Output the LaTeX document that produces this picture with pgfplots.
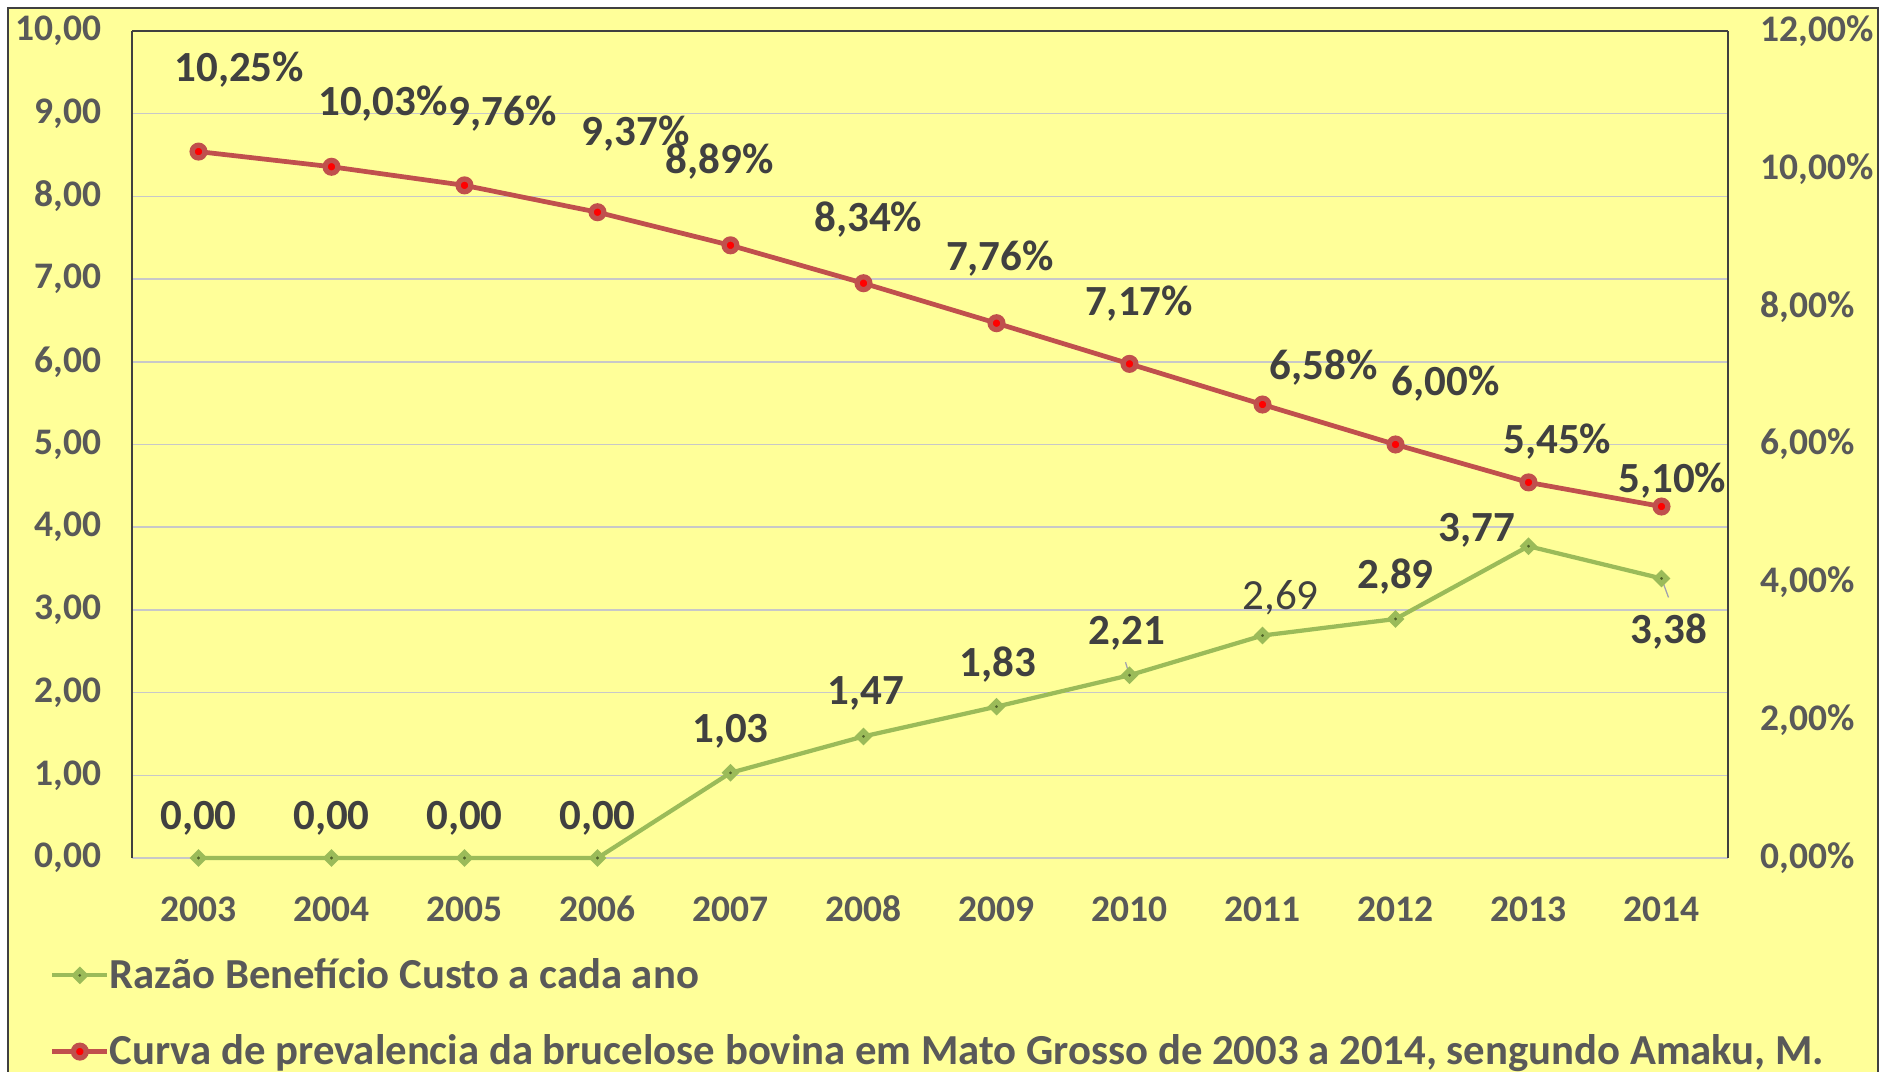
\documentclass[border=0pt]{standalone}
\usepackage{pgfplots}
\pgfplotsset{compat=1.18}
\usepackage{pgfplotstable}
\usepackage{fontspec}
\setmainfont{Carlito}

\definecolor{bgyellow}{HTML}{FFFF99}
\definecolor{framegray}{HTML}{404040}
\definecolor{tickgray}{HTML}{595959}
\definecolor{labelgray}{HTML}{404040}
\definecolor{gridgray}{HTML}{C8C8C8}
\definecolor{leadergray}{HTML}{A0A0B0}
\definecolor{ratiogreen}{HTML}{9BBB59}
\definecolor{ratiodot}{HTML}{4F6228}
\definecolor{prevred}{HTML}{C0504D}

% benefit/cost ratio per year; dx dy = label offset (pt), bold = label weight
\pgfplotstableread{
year ratio dx    dy    bold
2003 0.00  0.0   15.8  1
2004 0.00  0.0   15.8  1
2005 0.00  0.0   15.8  1
2006 0.00  0.0   15.8  1
2007 1.03  0.0   16.8  1
2008 1.47  1.0   17.2  1
2009 1.83  0.5   16.8  1
2010 2.21  -1.0  16.8  1
2011 2.69  7.2   15.3  0
2012 2.89  0.0   16.8  1
2013 3.77  -20.6 6.2   1
2014 3.38  2.9   -21.1 1
}\ratiotable

% prevalence (%) per year
\pgfplotstableread{
year prev  dx    dy
2003 10.25 16.3  33.0
2004 10.03 20.6  25.4
2005 9.76  15.3  28.7
2006 9.37  15.3  31.6
2007 8.89  -4.3  33.5
2008 8.34  1.9   25.4
2009 7.76  1.4   25.9
2010 7.17  3.8   24.0
2011 6.58  24.4  14.8
2012 6.00  20.1  24.4
2013 5.45  11.5  16.3
2014 5.10  4.3   10.5
}\prevtable

\pgfplotsset{
  base/.style={
    scale only axis, width=638.4pt, height=330.8pt,
    at={(52.8pt,85.2pt)}, anchor=south west,
    xmin=2002.5, xmax=2014.5, clip=false,
    major tick length=0pt,
    axis line style={framegray, line width=0.5pt},
    tick label style={font=\fontsize{15}{17}\selectfont\bfseries, text=tickgray},
    /pgf/number format/assume math mode=true,
  },
  ratio style/.style={
    color=ratiogreen, line width=1.7pt,
    mark=square*, mark size=1.5pt,
    mark options={rotate=45, fill=ratiodot, draw=ratiogreen, line width=2pt},
  },
  prev style/.style={
    color=prevred, line width=1.9pt,
    mark=*, mark size=2.55pt,
    mark options={fill=red, draw=prevred, line width=2.1pt},
  },
}

\begin{document}
\begin{tikzpicture}
\useasboundingbox (0,0) rectangle (751.6pt,428.4pt);
\fill[white] (0,0) rectangle (751.6pt,428.4pt);
\filldraw[fill=bgyellow, draw=framegray, line width=0.8pt] (3.2pt,-5pt) rectangle (751.2pt,425.2pt);

\begin{axis}[base,
  axis x line*=bottom, axis y line*=left,
  x axis line style={gridgray, line width=0.8pt},
  ymin=0, ymax=10, ytick={0,1,...,10},
  xtick={2003,...,2014},
  x tick label style={/pgf/number format/1000 sep={}, text height=11pt, yshift=-11pt},
  y tick label style={/pgf/number format/fixed, /pgf/number format/fixed zerofill,
    /pgf/number format/precision=2, /pgf/number format/use comma, xshift=-8.7pt},
  ymajorgrids, grid style={gridgray, line width=0.6pt},
]
\addplot[ratio style, forget plot,
  point meta=y,
  visualization depends on={\thisrow{dx}\as\lbldx},
  visualization depends on={\thisrow{dy}\as\lbldy},
  visualization depends on={\thisrow{bold}\as\lblbold},
  nodes near coords={\pgfmathprintnumber[fixed,fixed zerofill,precision=2,use comma,assume math mode=true]{\pgfplotspointmeta}},
  every node near coord/.append style={anchor=center, xshift=\lbldx, yshift=\lbldy,
    text=labelgray, font=\fontsize{17.2}{20}\selectfont\ifdim\lblbold pt>0.5pt\bfseries\else\mdseries\fi},
] table[x=year, y=ratio] {\ratiotable};
% leader lines of the two displaced labels
\draw[leadergray, line width=0.5pt] (axis cs:2010,2.21) -- ++(-1.6pt,5.2pt);
\draw[leadergray, line width=0.5pt] (axis cs:2014,3.38) -- ++(2.8pt,-7.6pt);
\end{axis}

\begin{axis}[base,
  ymin=0, ymax=12, ytick={0,2,...,12}, xtick=\empty,
  axis y line*=right, axis x line*=top,
  yticklabel={\pgfmathprintnumber[fixed,fixed zerofill,precision=2,use comma,assume math mode=true]{\tick}\%},
  y tick label style={xshift=9.5pt},
  legend image code/.code={\draw[mark repeat=2,mark phase=2,#1] plot coordinates {(0pt,0pt)(11pt,0pt)(22pt,0pt)};},
  legend cell align=left,
  legend style={at={(axis description cs:-0.0514,-0.1215)}, anchor=north west,
    draw=none, fill=none, inner sep=0pt, outer sep=0pt, row sep=17pt, column sep=0pt,
    nodes={inner sep=0pt, text=tickgray, font=\fontsize{17.1}{20}\selectfont\bfseries}},
]
\addlegendimage{ratio style}
\addlegendentry{Razão Benefício Custo a cada ano}
\addlegendimage{prev style}
\addlegendentry{Curva de prevalencia da brucelose bovina em Mato Grosso de 2003 a 2014, sengundo Amaku, M.}
\addplot[prev style, forget plot,
  point meta=y,
  visualization depends on={\thisrow{dx}\as\lbldx},
  visualization depends on={\thisrow{dy}\as\lbldy},
  nodes near coords={\pgfmathprintnumber[fixed,fixed zerofill,precision=2,use comma,assume math mode=true]{\pgfplotspointmeta}\%},
  every node near coord/.append style={anchor=center, xshift=\lbldx, yshift=\lbldy,
    text=labelgray, font=\fontsize{17.2}{20}\selectfont\bfseries},
] table[x=year, y=prev] {\prevtable};
\end{axis}
\end{tikzpicture}
\end{document}
